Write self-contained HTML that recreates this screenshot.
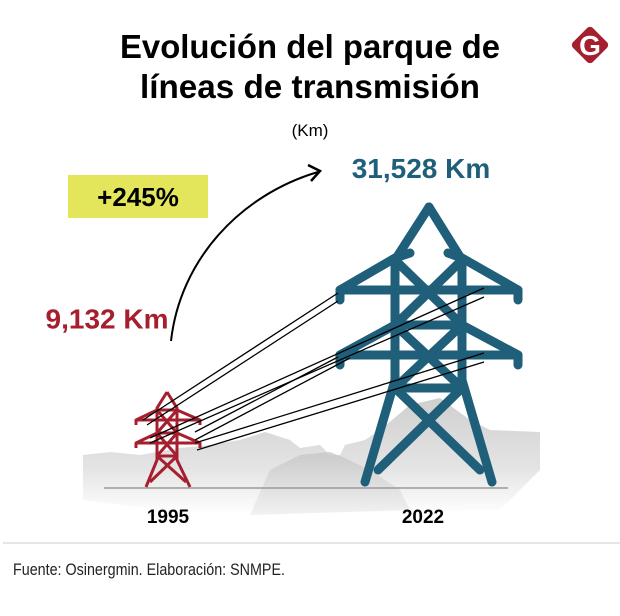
<!DOCTYPE html>
<html><head><meta charset="utf-8"><style>
html,body{margin:0;padding:0;background:#fff;}
svg{display:block;font-family:"Liberation Sans",sans-serif;}
</style></head><body>
<svg id="chart" width="620" height="616" viewBox="0 0 620 616">
  <defs>
    <linearGradient id="mg" x1="0" y1="0" x2="0" y2="1">
      <stop offset="0" stop-color="#cfcfcf"/>
      <stop offset="0.6" stop-color="#e4e4e4"/>
      <stop offset="1" stop-color="#ffffff"/>
    </linearGradient>
    <linearGradient id="mg2" x1="0" y1="0" x2="0" y2="1">
      <stop offset="0" stop-color="#c2c2c2"/>
      <stop offset="1" stop-color="#ececec"/>
    </linearGradient>
  </defs>
  <text x="310" y="58" text-anchor="middle" font-size="33" font-weight="bold" textLength="380" lengthAdjust="spacingAndGlyphs">Evolución del parque de</text>
  <text x="310" y="98" text-anchor="middle" font-size="33" font-weight="bold" textLength="340" lengthAdjust="spacingAndGlyphs">líneas de transmisión</text>
  <g>
    <rect x="576" y="31" width="28" height="28" rx="4" fill="#a51f2e" transform="rotate(45 590 45)"/>
    <text x="590" y="55" text-anchor="middle" font-size="28" font-weight="bold" fill="#fff">G</text>
  </g>
  <text x="310" y="136" text-anchor="middle" font-size="17">(Km)</text>
  <rect x="68" y="175" width="140" height="43" fill="#e3e55a"/>
  <text x="138" y="206" text-anchor="middle" font-size="26" font-weight="bold">+245%</text>
  <path d="M171,341 C180,260 240,195 318,172" fill="none" stroke="#000" stroke-width="2"/>
  <path d="M308,165 L320,171 L311,181" fill="none" stroke="#000" stroke-width="2.5"/>
  <g id="mountains">
    <path d="M83,455 L110,452 L140,455 L180,448 L210,445 L240,440 L265,432 L290,440 L300,448 L320,445 L330,455 L340,455 L345,445 L365,440 L380,430 L410,405 L440,398 L470,420 L490,430 L540,432 L540,470 L500,510 L200,515 L83,500 Z" fill="url(#mg)"/>
    <path d="M270,470 L300,455 L330,452 L345,458 L370,470 L400,490 L410,510 L250,515 Z" fill="url(#mg2)" opacity="0.7"/>
  </g>
  <line x1="104" y1="488" x2="508" y2="488" stroke="#999" stroke-width="1.5"/>
  <g id="big-tower" fill="none" stroke="#1f5f7a" stroke-width="9" stroke-linecap="round" stroke-linejoin="round">
    <path d="M429,207 L395,260 L395,380 L365,482"/>
    <path d="M429,207 L462,260 L462,380 L492,482"/>
    <path d="M340,300 L340,290 L395,258 L410,253"/>
    <path d="M518,300 L518,290 L462,258 L448,253"/>
    <path d="M340,290 L518,290"/>
    <path d="M340,365 L340,355 L395,325 L462,325 L518,355 L518,365"/>
    <path d="M340,355 L518,355"/>
    <path d="M395,260 L462,325 M462,260 L395,325"/>
    <path d="M395,325 L462,388 M462,325 L395,388"/>
    <path d="M395,388 L462,388"/>
    <path d="M395,388 L480,470 M462,388 L378,470"/>
  </g>
  <g id="small-tower" fill="none" stroke="#a51f2e" stroke-width="3" stroke-linejoin="round">
    <path d="M167,392 L157,408 L157,460 L146,487"/>
    <path d="M167,392 L177,408 L177,460 L190,487"/>
    <path d="M136,425 L136,420 L157,410 L177,410 L200,420 L200,425 M136,420 L200,420"/>
    <path d="M136,448 L136,443 L157,433 L177,433 L200,443 L200,448 M136,443 L200,443"/>
    <path d="M157,410 L177,433 M177,410 L157,433 M157,433 L177,456 M177,433 L157,456 M157,456 L177,456 M157,456 L186,482 M177,456 L150,482"/>
  </g>
  <g id="wires" stroke="#000" stroke-width="1.3">
    <line x1="143" y1="420" x2="338" y2="293"/>
    <line x1="147" y1="425" x2="338" y2="301"/>
    <line x1="150" y1="438" x2="484" y2="288"/>
    <line x1="150" y1="443" x2="484" y2="297"/>
    <line x1="195" y1="432" x2="338" y2="357"/>
    <line x1="195" y1="440" x2="350" y2="358"/>
    <line x1="195" y1="443" x2="484" y2="353"/>
    <line x1="197" y1="450" x2="484" y2="362"/>
  </g>
  <g id="labels"></g>
  <line x1="3" y1="543" x2="620" y2="543" stroke="#ddd" stroke-width="1.5"/>
  <text x="13" y="575" font-size="17" textLength="272" lengthAdjust="spacingAndGlyphs" fill="#222">Fuente: Osinergmin. Elaboración: SNMPE.</text>
</svg>
<script>
const years = ["1995", "2022"];
const values = [9132, 31528];
const valueLabels = ["9,132 Km", "31,528 Km"];
const colors = ["#a51f2e", "#1f5f7a"];
const ns = "http://www.w3.org/2000/svg";
const g = document.getElementById("labels");
const xCat = i => 168 + i * 255;
const yVal = v => 380 - (v / 31528) * 212;
years.forEach((y, i) => {
  const t = document.createElementNS(ns, "text");
  t.setAttribute("x", xCat(i));
  t.setAttribute("y", 523);
  t.setAttribute("text-anchor", "middle");
  t.setAttribute("font-size", "19");
  t.setAttribute("font-weight", "bold");
  t.textContent = y;
  
  
  g.appendChild(t);
  const v = document.createElementNS(ns, "text");
  v.setAttribute("x", i === 0 ? 107 : 421);
  v.setAttribute("y", yVal(values[i]) + 10);
  v.setAttribute("text-anchor", "middle");
  v.setAttribute("font-size", "28");
  v.setAttribute("font-weight", "bold");
  v.setAttribute("fill", colors[i]);
  v.textContent = valueLabels[i];
  
  
  g.appendChild(v);
});
</script>
</body></html>
